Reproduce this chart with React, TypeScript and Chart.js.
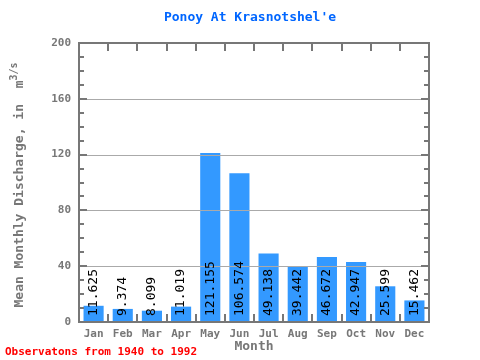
import React, { useEffect, useRef } from "react";
import { Chart, registerables } from "chart.js";

Chart.register(...registerables);

const months = ["Jan", "Feb", "Mar", "Apr", "May", "Jun", "Jul", "Aug", "Sep", "Oct", "Nov", "Dec"];
const discharge = [11.625, 9.374, 8.099, 11.019, 121.155, 106.574, 49.138, 39.442, 46.672, 42.947, 25.599, 15.462];
const valueLabels = ["11.625", "9.374", "8.099", "11.019", "121.155", "106.574", "49.138", "39.442", "46.672", "42.947", "25.599", "15.462"];
const yMax = 200;
const yStep = 40;
const minorStep = 10;

const titleText = "Ponoy At Krasnotshel'e";
const xTitle = "Month";
const yTitle = "Mean Monthly Discharge, in  m";
const ySup = "3/s";
const footText = "Observatons from 1940 to 1992";

const AXIS = "#777777";
const MONO = "'DejaVu Sans Mono'";

const decorPlugin = {
  id: "decor",
  afterDatasetsDraw(chart: any) {
    const ctx = chart.ctx;
    const a = chart.chartArea;
    const y = chart.scales.y;
    ctx.save();
    ctx.strokeStyle = "#aaaaaa";
    ctx.lineWidth = 1;
    for (let v = yStep; v < yMax; v += yStep) {
      const py = Math.round(y.getPixelForValue(v)) + 0.5;
      ctx.beginPath();
      ctx.moveTo(a.left, py);
      ctx.lineTo(a.right, py);
      ctx.stroke();
    }
    ctx.strokeStyle = AXIS;
    ctx.lineWidth = 2;
    ctx.strokeRect(a.left, a.top, a.right - a.left, a.bottom - a.top);
    const n = months.length;
    const w = (a.right - a.left) / n;
    for (let i = 1; i < n; i++) {
      const px = Math.round(a.left + i * w);
      ctx.beginPath();
      ctx.moveTo(px, a.top);
      ctx.lineTo(px, a.top + 8);
      ctx.moveTo(px, a.bottom);
      ctx.lineTo(px, a.bottom - 8);
      ctx.stroke();
    }
    for (let v = minorStep; v < yMax; v += minorStep) {
      const py = Math.round(y.getPixelForValue(v));
      const len = v % yStep === 0 ? 8 : 5;
      ctx.beginPath();
      ctx.moveTo(a.left, py);
      ctx.lineTo(a.left + len, py);
      ctx.moveTo(a.right, py);
      ctx.lineTo(a.right - len, py);
      ctx.stroke();
    }
    ctx.restore();
  },
  afterDraw(chart: any) {
    const ctx = chart.ctx;
    const a = chart.chartArea;
    ctx.save();
    ctx.fillStyle = "#0066ff";
    ctx.font = `bold 13px ${MONO}`;
    ctx.textAlign = "center";
    ctx.textBaseline = "middle";
    ctx.fillText(titleText, 250, 18);
    ctx.fillStyle = AXIS;
    ctx.font = `bold 13px ${MONO}`;
    ctx.fillText(xTitle, (a.left + a.right) / 2, 347);
    ctx.fillStyle = "#ff0000";
    ctx.font = `bold 11px ${MONO}`;
    ctx.textAlign = "left";
    ctx.fillText(footText, 5, 352);
    ctx.restore();

    const xs = chart.scales.x;
    valueLabels.forEach((t, i) => {
      const bx = xs.getPixelForValue(i);
      ctx.save();
      ctx.font = `13px ${MONO}`;
      ctx.fillStyle = "#000";
      ctx.translate(bx, a.bottom - 6);
      ctx.rotate(-Math.PI / 2);
      ctx.textAlign = "left";
      ctx.textBaseline = "middle";
      ctx.fillText(t, 0, 0);
      ctx.restore();
    });

    ctx.save();
    ctx.fillStyle = AXIS;
    ctx.textBaseline = "middle";
    ctx.font = `bold 13px ${MONO}`;
    const mainW = ctx.measureText(yTitle).width;
    ctx.font = `bold 10px ${MONO}`;
    const supW = ctx.measureText(ySup).width;
    const total = mainW + supW;
    ctx.translate(20, 185);
    ctx.rotate(-Math.PI / 2);
    ctx.textAlign = "left";
    ctx.font = `bold 13px ${MONO}`;
    ctx.fillText(yTitle, -total / 2, 0);
    ctx.font = `bold 10px ${MONO}`;
    ctx.fillText(ySup, -total / 2 + mainW, -6);
    ctx.restore();
  },
};

export default function App() {
  const ref = useRef<HTMLCanvasElement | null>(null);
  useEffect(() => {
    document.body.style.margin = "0";
    if (!ref.current) return;
    const chart = new Chart(ref.current, {
      type: "bar",
      data: {
        labels: months,
        datasets: [
          {
            data: discharge,
            backgroundColor: "#3399ff",
            borderWidth: 0,
            barPercentage: 0.69,
            categoryPercentage: 1,
          },
        ],
      },
      options: {
        animation: false,
        responsive: false,
        maintainAspectRatio: false,
        layout: { padding: { top: 43, right: 51, left: 0, bottom: 0 } },
        plugins: { legend: { display: false }, title: { display: false }, tooltip: { enabled: false } },
        scales: {
          x: {
            grid: { display: false, drawTicks: false },
            border: { display: false },
            ticks: {
              color: AXIS,
              font: { family: MONO, size: 11, weight: "bold" },
              padding: 6,
              maxRotation: 0,
              autoSkip: false,
            },
            afterFit(scale: any) {
              scale.height = 38;
            },
          },
          y: {
            min: 0,
            max: yMax,
            grid: { display: false, drawTicks: false },
            border: { display: false },
            ticks: {
              stepSize: yStep,
              color: AXIS,
              font: { family: MONO, size: 11, weight: "bold" },
              padding: 8,
            },
            afterFit(scale: any) {
              scale.width = 79;
            },
          },
        },
      },
      plugins: [decorPlugin],
    });
    return () => chart.destroy();
  }, []);
  return <canvas ref={ref} width={480} height={360} style={{ display: "block" }} />;
}
